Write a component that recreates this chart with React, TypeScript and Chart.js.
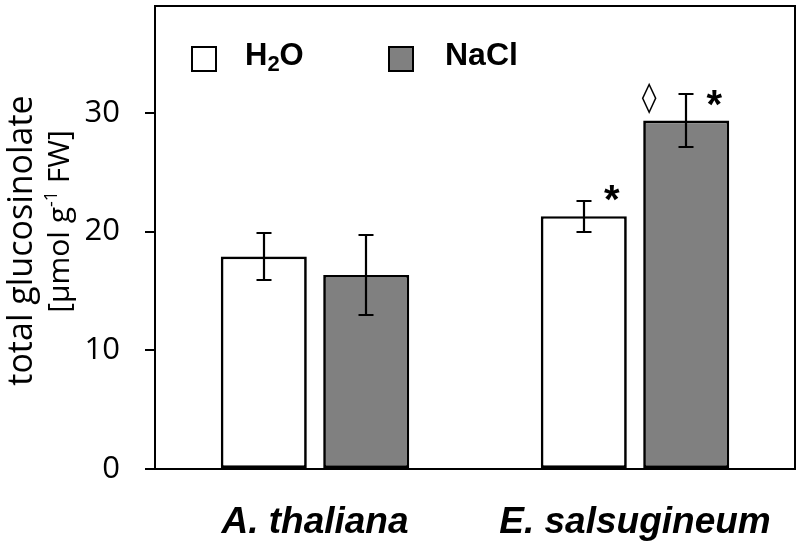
import React, { useEffect, useRef } from "react";
import { Chart, registerables } from "chart.js";

Chart.register(...registerables);

const categories = ["A. thaliana", "E. salsugineum"];
const seriesNames = ["H2O", "NaCl"];
const h2oValues = [17.9, 21.3];
const h2oErrors = [2.0, 1.3];
const naclValues = [16.35, 29.35];
const naclErrors = [3.4, 2.2];
const yTickValues = [0, 10, 20, 30];
const yMin = 0;
const yMax = 39;
const yTitleLine1 = "total glucosinolate";
const yTitleLine2 = ["[µmol g", "-1", " FW]"];
// significance marks: series index, category index, symbol, side of the bar
const marks = [
  { series: 0, index: 1, text: "*", side: "right" },
  { series: 1, index: 1, text: "◊", side: "left" },
  { series: 1, index: 1, text: "*", side: "right" },
];

const fillColors = ["#ffffff", "#808080"];

const decorPlugin = {
  id: "decor",
  afterDatasetsDraw(chart: any) {
    const ctx = chart.ctx as CanvasRenderingContext2D;
    const y = chart.scales.y;
    const vals = [h2oValues, naclValues];
    const errs = [h2oErrors, naclErrors];
    ctx.save();
    ctx.strokeStyle = "#000";
    ctx.lineWidth = 2.2;
    chart.data.datasets.forEach((_: any, di: number) => {
      const meta = chart.getDatasetMeta(di);
      meta.data.forEach((bar: any, i: number) => {
        const v = vals[di][i];
        const e = errs[di][i];
        const yt = Math.round(y.getPixelForValue(v + e));
        const yb = Math.round(y.getPixelForValue(v - e));
        const x = Math.round(bar.x);
        ctx.beginPath();
        ctx.moveTo(x, yt);
        ctx.lineTo(x, yb);
        ctx.moveTo(x - 7.5, yt);
        ctx.lineTo(x + 7.5, yt);
        ctx.moveTo(x - 7.5, yb);
        ctx.lineTo(x + 7.5, yb);
        ctx.stroke();
      });
    });

    // significance marks
    ctx.fillStyle = "#000";
    ctx.textAlign = "center";
    ctx.textBaseline = "alphabetic";
    marks.forEach((m) => {
      const bar = chart.getDatasetMeta(m.series).data[m.index];
      const cx = bar.x + (m.side === "right" ? 28 : -37);
      const cy = bar.y - 23;
      ctx.font = m.text === "*" ? "bold 40px 'Liberation Sans'" : "bold 30px 'DejaVu Sans'";
      const tm = ctx.measureText(m.text);
      const dy = (tm.actualBoundingBoxAscent - tm.actualBoundingBoxDescent) / 2;
      ctx.fillText(m.text, cx, cy + dy);
    });
    ctx.restore();
  },
  afterDraw(chart: any) {
    const ctx = chart.ctx as CanvasRenderingContext2D;
    const a = chart.chartArea;
    ctx.save();
    ctx.strokeStyle = "#000";
    ctx.lineWidth = 2;
    ctx.strokeRect(a.left, a.top, a.right - a.left, a.bottom - a.top);

    // legend
    const lx = a.left + 37;
    const ly = a.top + 41;
    const sq = 24;
    const boxes = [
      { x: lx, fill: fillColors[0] },
      { x: lx + 197, fill: fillColors[1] },
    ];
    boxes.forEach((b) => {
      ctx.fillStyle = b.fill;
      ctx.fillRect(b.x, ly, sq, sq);
      ctx.lineWidth = 2;
      ctx.strokeRect(b.x, ly, sq, sq);
    });
    ctx.fillStyle = "#000";
    ctx.textAlign = "left";
    ctx.textBaseline = "alphabetic";
    const base = ly + 18;
    // H2O with subscript
    let tx = lx + 53;
    ctx.font = "bold 31px 'Liberation Sans'";
    ctx.fillText("H", tx, base);
    tx += ctx.measureText("H").width;
    ctx.font = "bold 22px 'Liberation Sans'";
    ctx.fillText("2", tx, base + 6);
    tx += ctx.measureText("2").width;
    ctx.font = "bold 31px 'Liberation Sans'";
    ctx.fillText("O", tx, base);
    ctx.font = "bold 32px 'Liberation Sans'";
    ctx.fillText(seriesNames[1], lx + 253, base);

    // y title
    const cy = (a.top + a.bottom) / 2;
    ctx.save();
    ctx.translate(32, cy + 3);
    ctx.rotate(-Math.PI / 2);
    ctx.textAlign = "center";
    ctx.font = "34px 'Open Sans'";
    ctx.fillText(yTitleLine1, 0, 0);
    ctx.restore();

    ctx.save();
    ctx.translate(69, cy - 16);
    ctx.rotate(-Math.PI / 2);
    ctx.textAlign = "left";
    const f1 = "30px 'Open Sans'";
    const f2 = "18px 'Open Sans'";
    ctx.font = f1;
    const w0 = ctx.measureText(yTitleLine2[0]).width;
    const w2 = ctx.measureText(yTitleLine2[2]).width;
    ctx.font = f2;
    const w1 = ctx.measureText(yTitleLine2[1]).width;
    let px = -(w0 + w1 + w2) / 2;
    ctx.font = f1;
    ctx.fillText(yTitleLine2[0], px, 0);
    px += w0;
    ctx.font = f2;
    ctx.fillText(yTitleLine2[1], px, -12);
    px += w1;
    ctx.font = f1;
    ctx.fillText(yTitleLine2[2], px, 0);
    ctx.restore();

    ctx.restore();
  },
};

export default function App() {
  const ref = useRef<HTMLCanvasElement | null>(null);
  useEffect(() => {
    if (!ref.current) return;
    const chart = new Chart(ref.current, {
      type: "bar",
      data: {
        labels: categories,
        datasets: [
          {
            label: seriesNames[0],
            data: h2oValues,
            backgroundColor: fillColors[0],
            borderColor: "#000",
            borderWidth: 2.7,
            borderSkipped: false,
            categoryPercentage: 0.64,
            barPercentage: 0.84,
          },
          {
            label: seriesNames[1],
            data: naclValues,
            backgroundColor: fillColors[1],
            borderColor: "#000",
            borderWidth: 2.7,
            borderSkipped: false,
            categoryPercentage: 0.64,
            barPercentage: 0.84,
          },
        ],
      },
      options: {
        responsive: false,
        animation: false,
        layout: { padding: { left: 0, top: 6, right: 5, bottom: 0 } },
        plugins: {
          legend: { display: false },
          tooltip: { enabled: false },
          title: { display: false },
        },
        scales: {
          x: {
            grid: { display: false },
            border: { display: false },
            ticks: {
              color: "#000",
              padding: 24,
              font: { family: "'Liberation Sans'", size: 37, weight: "bold", style: "italic" },
            },
            afterFit: (s: any) => {
              s.height = 74;
              s.paddingLeft = 0;
              s.paddingRight = 0;
            },
          },
          y: {
            min: yMin,
            max: yMax,
            afterBuildTicks: (s: any) => {
              s.ticks = yTickValues.map((v) => ({ value: v }));
            },
            grid: {
              display: true,
              drawOnChartArea: false,
              drawTicks: true,
              tickLength: 10,
              color: "#000",
              lineWidth: 2,
            },
            border: { display: false },
            ticks: {
              color: "#000",
              padding: 25,
              font: { family: "'Open Sans'", size: 31 },
            },
            afterFit: (s: any) => {
              s.width = 155;
              s.paddingTop = 0;
              s.paddingBottom = 0;
            },
          },
        },
      },
      plugins: [decorPlugin],
    });
    return () => chart.destroy();
  }, []);
  return (
    <div style={{ position: "fixed", left: 0, top: 0, width: 800, height: 543, background: "#fff" }}>
      <canvas ref={ref} width={800} height={543} />
    </div>
  );
}
